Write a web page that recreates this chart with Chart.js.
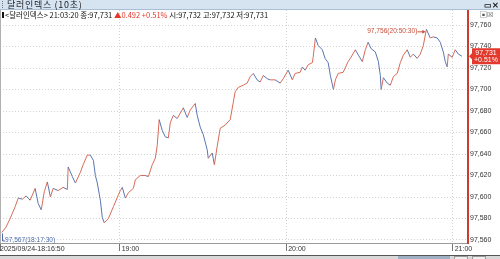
<!DOCTYPE html>
<html><head><meta charset="utf-8">
<script src="https://cdn.jsdelivr.net/npm/chart.js@4.4.1/dist/chart.umd.min.js"></script>
<style>
html,body{margin:0;padding:0;background:#fff;}
#wrap{position:relative;width:500px;height:259px;overflow:hidden;font-family:"Noto Sans CJK KR","Noto Sans",sans-serif;}
#c{position:absolute;left:0;top:0;}
#title{position:absolute;left:0;top:0;width:500px;height:9px;background:#d6e4f2;border-bottom:1px solid #a9bfd6;font-size:9px;line-height:9px;color:#222;white-space:nowrap;}
#title .grip{position:absolute;left:2px;top:1px;width:1px;height:7px;border-left:1px dotted #777;}
#title .t{position:absolute;left:7px;top:0;letter-spacing:0.7px;}
#title .ic{position:absolute;top:1px;font-size:8px;line-height:7px;color:#222;font-weight:bold;}
#info{position:absolute;left:2px;top:10px;height:10px;font-size:7.5px;line-height:10px;color:#111;white-space:nowrap;}
#info .red{color:#e0392b;}
#info .blk{display:inline-block;width:2px;height:6px;background:#111;margin-right:1px;}
#lb{position:absolute;left:0;top:10px;width:1px;height:233px;background:#b0b0b0;}
#sb{position:absolute;left:0;top:255px;width:500px;height:4px;background:#d8d8d8;border-top:1px solid #555;}
#sb .th{position:absolute;left:398px;top:0;width:52px;height:4px;background:#9fb0c4;}
#sb .b1{position:absolute;left:454px;top:0;width:12px;height:3px;border:1px solid #999;background:#eee;}
#sb .b2{position:absolute;left:472px;top:0;width:12px;height:3px;border:1px solid #999;background:#eee;}
#mini{position:absolute;left:480px;top:11px;font-size:7px;line-height:7px;color:#555;}
</style></head>
<body><div id="wrap">
<canvas id="c" width="500" height="259"></canvas>
<div id="lb"></div>
<div id="title"><span class="grip"></span><span class="t">달러인덱스 (10초)</span><span class="ic" style="left:484px">▭</span><span class="ic" style="left:492px">✕</span></div>
<div id="info"><span class="blk"></span>&lt;달러인덱스&gt; 21:03:20 종:97,731 <span class="red">▲0.492 +0.51%</span> 시:97,732 고:97,732 저:97,731</div>
<div id="mini">▣☒</div>
<div id="sb"><div class="th"></div><div class="b1"></div><div class="b2"></div></div>
</div>
<script>
// minutes after 18:00
const times = [17.5, 19.0, 20.5, 22.3, 23.4, 24.9, 26.3, 27.7, 29.5, 30.6,
 31.7, 32.8, 33.9, 35.0, 36.0, 37.8, 39.6, 41.1, 41.4, 42.9,
 44.0, 45.8, 46.8, 48.3, 49.4, 50.5, 51.2, 51.9, 53.0, 53.7,
 54.4, 55.9, 57.7, 59.5, 60.2, 60.9, 62.0, 63.1, 64.9, 65.6,
 67.4, 69.2, 70.3, 71.7, 72.8, 73.5, 74.2, 75.3, 76.4, 77.5,
 78.2, 79.3, 80.7, 81.8, 82.9, 84.3, 85.4, 87.2, 87.9, 89.0,
 90.1, 91.5, 91.9, 93.3, 94.1, 95.1, 96.2, 98.0, 99.8, 100.9,
 101.6, 102.7, 104.5, 105.9, 107.0, 108.1, 109.5, 110.6, 111.7, 113.2,
 114.2, 116.0, 117.8, 118.9, 120.7, 122.2, 123.2, 125.0, 125.8, 126.8,
 127.9, 129.4, 129.7, 130.5, 131.5, 133.0, 134.0, 135.1, 135.9, 137.0,
 137.7, 138.7, 140.5, 142.3, 143.1, 144.9, 146.0, 147.4, 148.5, 149.5,
 150.6, 152.1, 153.2, 153.9, 154.2, 155.0, 156.4, 157.5, 158.6, 160.0,
 161.1, 162.2, 163.6, 164.7, 165.8, 167.2, 168.3, 169.4, 170.5, 171.9,
 173.0, 174.4, 175.5, 176.6, 177.3, 178.0, 178.4, 179.8, 180.9, 182.0,
 183.3];
const values = [97.567, 97.572, 97.580, 97.591, 97.599, 97.598, 97.601, 97.597, 97.608, 97.594,
 97.588, 97.605, 97.614, 97.600, 97.608, 97.606, 97.609, 97.607, 97.628, 97.619,
 97.613, 97.623, 97.630, 97.639, 97.639, 97.634, 97.620, 97.613, 97.597, 97.581,
 97.576, 97.580, 97.591, 97.602, 97.606, 97.609, 97.599, 97.604, 97.608, 97.616,
 97.620, 97.620, 97.619, 97.630, 97.636, 97.648, 97.672, 97.662, 97.656, 97.655,
 97.669, 97.676, 97.673, 97.678, 97.683, 97.674, 97.681, 97.687, 97.676, 97.665,
 97.658, 97.644, 97.636, 97.641, 97.630, 97.647, 97.664, 97.667, 97.672, 97.688,
 97.698, 97.702, 97.704, 97.706, 97.712, 97.715, 97.709, 97.707, 97.713, 97.710,
 97.709, 97.709, 97.706, 97.710, 97.718, 97.709, 97.715, 97.716, 97.721, 97.718,
 97.723, 97.725, 97.730, 97.748, 97.741, 97.737, 97.729, 97.725, 97.713, 97.700,
 97.709, 97.715, 97.716, 97.726, 97.729, 97.737, 97.732, 97.726, 97.737, 97.744,
 97.738, 97.735, 97.726, 97.713, 97.700, 97.711, 97.706, 97.704, 97.712, 97.715,
 97.725, 97.732, 97.737, 97.730, 97.733, 97.729, 97.733, 97.741, 97.756, 97.748,
 97.749, 97.748, 97.744, 97.735, 97.726, 97.721, 97.733, 97.730, 97.737, 97.733,
 97.731];
const yTicks = [97.56, 97.58, 97.60, 97.62, 97.64, 97.66, 97.68, 97.70, 97.72, 97.74, 97.76];
const xTickValues = [16.8333, 60, 120, 180];
const xTickLabels = ['2025/09/24-18:16:50', ' 19:00', ' 20:00', ' 21:00'];
const changeText = '+0.51%';

const upColor = '#d86a58', downColor = '#5876b0';
const fmt = v => v.toFixed(3).replace('.', ',');
const tfmt = t => { const s = Math.round(t * 60); const h = 18 + Math.floor(s / 3600); const m = Math.floor((s % 3600) / 60); const sec = s % 60; const p = n => String(n).padStart(2, '0'); return p(h) + ':' + p(m) + ':' + p(sec); };
const axisFont = {family: "'Liberation Sans',sans-serif", size: 7};

const annot = {
  id: 'annot',
  afterDatasetsDraw(chart) {
    const ctx = chart.ctx, xs = chart.scales.x, ys = chart.scales.y;
    const f = "6.6px 'Liberation Sans',sans-serif";
    let iMax = 0, iMin = 0;
    values.forEach((v, i) => { if (v > values[iMax]) iMax = i; if (v < values[iMin]) iMin = i; });
    ctx.save();
    let px = xs.getPixelForValue(times[iMax]), py = ys.getPixelForValue(values[iMax]) + 2;
    ctx.strokeStyle = '#c8503c'; ctx.fillStyle = '#c8503c'; ctx.lineWidth = 1;
    ctx.beginPath(); ctx.moveTo(px - 9, py + 0.5); ctx.lineTo(px - 2, py + 0.5); ctx.stroke();
    ctx.beginPath(); ctx.moveTo(px - 1, py + 0.5); ctx.lineTo(px - 4, py - 1.5); ctx.lineTo(px - 4, py + 2.5); ctx.closePath(); ctx.fill();
    ctx.font = f; ctx.textAlign = 'right'; ctx.textBaseline = 'middle';
    ctx.fillText(fmt(values[iMax]) + '(' + tfmt(times[iMax]) + ')', px - 9, py);
    px = xs.getPixelForValue(times[iMin]); py = ys.getPixelForValue(values[iMin]);
    ctx.strokeStyle = '#4a6aa8'; ctx.fillStyle = '#4a6aa8';
    ctx.beginPath(); ctx.moveTo(Math.round(px) + 0.5, py + 1); ctx.lineTo(Math.round(px) + 0.5, py + 8.5); ctx.lineTo(Math.round(px) + 3, py + 8.5); ctx.stroke();
    ctx.textAlign = 'left';
    ctx.fillText(fmt(values[iMin]) + '(' + tfmt(times[iMin]) + ')', Math.round(px) + 3, py + 8);
    const last = values[values.length - 1];
    const by = ys.getPixelForValue(last);
    const bx = chart.chartArea.right + 1;
    ctx.fillStyle = '#e2392c';
    ctx.beginPath(); ctx.moveTo(bx, by); ctx.lineTo(bx + 3, by - 3); ctx.lineTo(bx + 3, by - 8); ctx.lineTo(500, by - 8); ctx.lineTo(500, by + 8); ctx.lineTo(bx + 3, by + 8); ctx.lineTo(bx + 3, by + 3); ctx.closePath(); ctx.fill();
    ctx.fillStyle = '#fff'; ctx.textAlign = 'center'; ctx.font = "7px 'Liberation Sans',sans-serif";
    ctx.fillText(fmt(last), bx + 17, by - 3.5);
    ctx.fillText(changeText, bx + 17, by + 4);
    ctx.restore();
  }
};

new Chart(document.getElementById('c'), {
  type: 'line',
  data: {datasets: [{
    data: times.map((t, i) => ({x: t, y: values[i]})),
    borderWidth: 1, pointRadius: 0, tension: 0, borderColor: upColor,
    segment: {borderColor: c => (c.p1.parsed.y >= c.p0.parsed.y ? upColor : downColor)}
  }]},
  options: {
    responsive: false, animation: false, events: [],
    layout: {padding: {left: 0, top: 10, right: 0, bottom: 0}},
    plugins: {legend: {display: false}, tooltip: {enabled: false}},
    scales: {
      x: {
        type: 'linear', min: 16.8333, max: 185.5,
        afterBuildTicks: s => { s.ticks = xTickValues.map(v => ({value: v})); },
        afterFit: s => { s.height = 16; },
        grid: {color: '#d0d0d0', lineWidth: 1, drawTicks: true, tickLength: 8, tickColor: '#777', tickBorderDash: []},
        border: {display: true, color: '#9a9a9a', width: 1, dash: [1, 2]},
        ticks: {autoSkip: false, maxRotation: 0, align: 'start', padding: -6, color: '#333', font: axisFont,
          callback: (v, i) => xTickLabels[i]}
      },
      y: {
        position: 'right', min: 97.5572, max: 97.774,
        afterBuildTicks: s => { s.ticks = yTicks.map(v => ({value: v})); },
        afterFit: s => { s.width = 32; },
        grid: {color: '#d4d4d4', drawTicks: false},
        border: {display: true, color: '#cc3b2c', width: 2, dash: [1, 2]},
        ticks: {padding: 2, color: '#333', font: axisFont, callback: v => fmt(v)}
      }
    }
  },
  plugins: [annot]
});
</script>
</body></html>
